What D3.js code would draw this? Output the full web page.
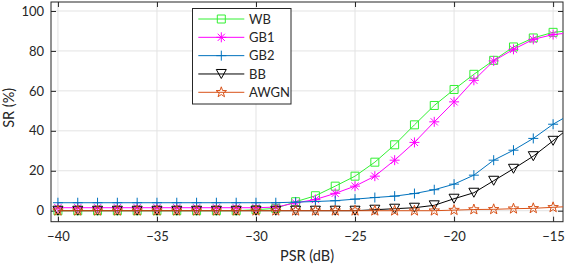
<!DOCTYPE html>
<html>
<head>
<meta charset="utf-8">
<script src="https://cdn.jsdelivr.net/npm/d3@7/dist/d3.min.js"></script>
<style>
  html, body { margin: 0; padding: 0; background: #fff; }
  svg { display: block; }
  text { font-family: Lato, "Open Sans", sans-serif; fill: #262626; }
</style>
</head>
<body>
<svg id="chart" width="565" height="267"></svg>
<script>
// ---- data ----
const psr = [-40,-39,-38,-37,-36,-35,-34,-33,-32,-31,-30,-29,-28,-27,-26,-25,-24,-23,-22,-21,-20,-19,-18,-17,-16,-15,-14];
const wb   = [0,0,0,0,0,0,0,0,0,0,0.5,1.2,4.5,7.5,12.3,17.3,24.3,33,43,52.7,60.7,68.3,75.3,82,86.5,89.3,90.3];
const gb1  = [1.5,1.5,1.5,1.5,1.5,1.5,1.5,1.5,1.5,1.5,1.5,1.8,3.9,5.6,8.7,12.3,17.3,25.3,34.2,44.5,54.5,65.3,75,80.8,85.8,88.2,89.2];
const gb2  = [4,4,4,4,4,4,4,4,4,4,4,4,4.3,4.6,5,5.8,6.6,7.3,8.6,10.5,13.3,17.8,25.3,30.3,36.2,43.3,49];
const bb   = [0,0,0,0,0,0,0,0,0,0,0,0,0,0,0,0,0.5,1,1.5,2.7,6,9,15,21,27.3,35,43];
const awgn = [0,0,0,0,0,0,0,0,0,0,0,0,0,0,0,0,0,0,0,0,0.3,0.6,0.7,1,1.2,1.7,2.2];
const seriesNames = ["WB","GB1","GB2","BB","AWGN"];
const seriesColors = ["#33f033","#ff00ff","#0072BD","#000000","#D95319"];
const seriesMarkers = ["square","asterisk","plus","triangleDown","pentagram"];
const xTicks = [-40,-35,-30,-25,-20,-15];
const yTicks = [0,20,40,60,80,100];
const xDomain = [-40.35, -14.5];
const yDomain = [-5.5, 104.5];
const xLabel = "PSR (dB)";
const yLabel = "SR (%)";

const seriesData = [wb, gb1, gb2, bb, awgn];

// ---- layout ----
const svg = d3.select("#chart");
const L = 51, R = 563, T = 2, B = 221.7;
const x = d3.scaleLinear().domain(xDomain).range([L, R]);
const y = d3.scaleLinear().domain(yDomain).range([B, T]);
const frameColor = "#262626";

svg.append("defs").append("clipPath").attr("id","plotclip")
  .append("rect").attr("x", L).attr("y", T).attr("width", R - L).attr("height", B - T);

// grid
const grid = svg.append("g");
grid.selectAll(".gx").data(xTicks).join("line")
  .attr("x1", d => x(d)).attr("x2", d => x(d)).attr("y1", T).attr("y2", B)
  .attr("stroke", "#e3e3e3").attr("stroke-width", 1);
grid.selectAll(".gy").data(yTicks).join("line")
  .attr("y1", d => y(d)).attr("y2", d => y(d)).attr("x1", L).attr("x2", R)
  .attr("stroke", "#e3e3e3").attr("stroke-width", 1);

// axes (ticks inward)
const xAxisB = d3.axisBottom(x).tickValues(xTicks).tickSize(-5).tickPadding(10).tickFormat(d3.format("d"));
const xAxisT = d3.axisTop(x).tickValues(xTicks).tickSize(-5).tickFormat("");
const yAxisL = d3.axisLeft(y).tickValues(yTicks).tickSize(-5).tickPadding(7).tickFormat(d3.format("d"));
const yAxisR = d3.axisRight(y).tickValues(yTicks).tickSize(-5).tickFormat("");

function styleAxis(g) {
  g.select(".domain").remove();
  g.selectAll(".tick line").attr("stroke", frameColor);
  g.selectAll("text").attr("font-size", 13).attr("fill", "#262626")
    .style("font-family", "Lato, 'Open Sans', sans-serif");
}
svg.append("g").attr("transform", `translate(0,${B})`).call(xAxisB).call(styleAxis);
svg.append("g").attr("transform", `translate(0,${T})`).call(xAxisT).call(styleAxis);
svg.append("g").attr("transform", `translate(${L},0)`).call(yAxisL).call(styleAxis);
svg.append("g").attr("transform", `translate(${R},0)`).call(yAxisR).call(styleAxis);

// frame
svg.append("rect").attr("x", L).attr("y", T).attr("width", R - L).attr("height", B - T)
  .attr("fill", "none").attr("stroke", frameColor).attr("stroke-width", 1);

// marker shapes
function markerPath(type, s) {
  const p = d3.path();
  if (type === "square") {
    p.rect(-s/2, -s/2, s, s);
  } else if (type === "plus") {
    p.moveTo(-s/2, 0); p.lineTo(s/2, 0); p.moveTo(0, -s/2); p.lineTo(0, s/2);
  } else if (type === "asterisk") {
    const r = s/2, d = r * 0.72;
    p.moveTo(-r, 0); p.lineTo(r, 0); p.moveTo(0, -r); p.lineTo(0, r);
    p.moveTo(-d, -d); p.lineTo(d, d); p.moveTo(-d, d); p.lineTo(d, -d);
  } else if (type === "triangleDown") {
    const h = s * 0.9;
    p.moveTo(-s/2, -h/2); p.lineTo(s/2, -h/2); p.lineTo(0, h/2); p.closePath();
  } else if (type === "pentagram") {
    const ro = s/2, ri = ro * 0.4;
    for (let i = 0; i < 10; i++) {
      const r = i % 2 === 0 ? ro : ri;
      const a = -Math.PI/2 + i * Math.PI/5;
      const px = r * Math.cos(a), py = r * Math.sin(a);
      if (i === 0) p.moveTo(px, py); else p.lineTo(px, py);
    }
    p.closePath();
  }
  return p.toString();
}
const markerSize = {square: 8, plus: 10, asterisk: 10, triangleDown: 10, pentagram: 11};

// series
const plot = svg.append("g").attr("clip-path", "url(#plotclip)");
const line = d3.line().x(d => x(d[0])).y(d => y(d[1]));
seriesData.forEach((vals, i) => {
  const pts = psr.map((p, j) => [p, vals[j]]);
  const g = plot.append("g");
  g.append("path").datum(pts).attr("d", line)
    .attr("fill", "none").attr("stroke", seriesColors[i]).attr("stroke-width", 1);
  const mk = seriesMarkers[i];
  g.selectAll("path.m").data(pts).join("path").attr("class", "m")
    .attr("transform", d => `translate(${x(d[0])},${y(d[1])})`)
    .attr("d", markerPath(mk, markerSize[mk]))
    .attr("fill", "none").attr("stroke", seriesColors[i]).attr("stroke-width", 1);
});

// axis labels
svg.append("text").attr("x", (L + R) / 2).attr("y", 261).attr("text-anchor", "middle")
  .attr("font-size", 14.5).text(xLabel);
svg.append("text").attr("transform", `translate(13.5,${(T + B) / 2 - 4}) rotate(-90)`)
  .attr("text-anchor", "middle").attr("font-size", 14.5).text(yLabel);

// legend
const lg = svg.append("g");
lg.append("rect").attr("x", 192.5).attr("y", 8.5).attr("width", 98.5).attr("height", 95.5)
  .attr("fill", "#fff").attr("stroke", frameColor).attr("stroke-width", 1);
const legY = d3.scalePoint().domain(seriesNames).range([19, 92.3]);
seriesNames.forEach((name, i) => {
  const yy = legY(name);
  lg.append("line").attr("x1", 198.3).attr("x2", 244.3).attr("y1", yy).attr("y2", yy)
    .attr("stroke", seriesColors[i]).attr("stroke-width", 1);
  const mk = seriesMarkers[i];
  lg.append("path").attr("transform", `translate(221.3,${yy})`)
    .attr("d", markerPath(mk, markerSize[mk]))
    .attr("fill", "none").attr("stroke", seriesColors[i]).attr("stroke-width", 1);
  lg.append("text").attr("x", 249).attr("y", yy).attr("dy", "0.35em")
    .attr("font-size", 13).attr("fill", "#000").text(name);
});
</script>
</body>
</html>
